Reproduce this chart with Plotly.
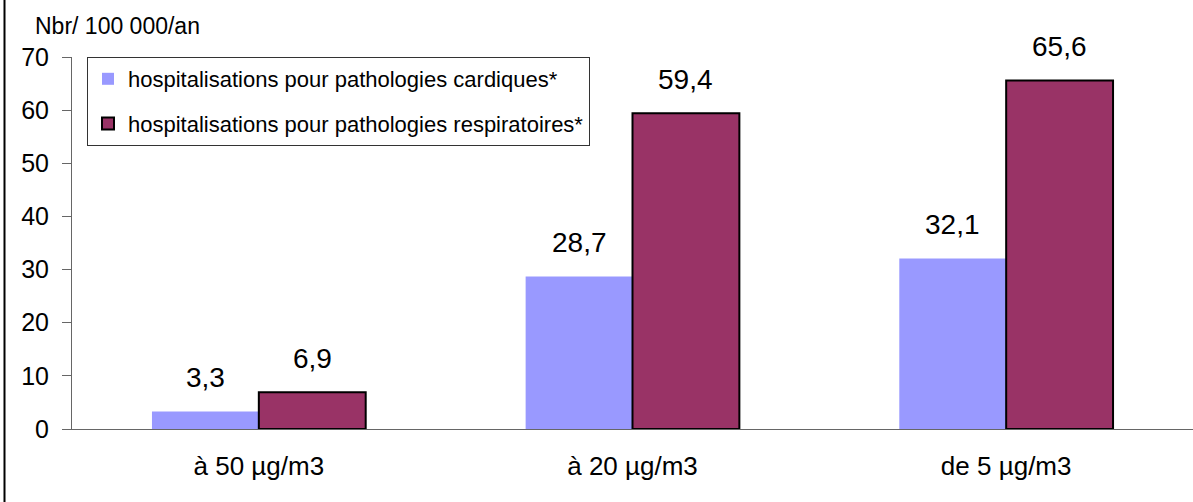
import plotly.graph_objects as go

# Hospitalisations évitables selon le seuil de concentration
categories = ["à 50 µg/m3", "à 20 µg/m3", "de 5 µg/m3"]
cardiaques = [3.3, 28.7, 32.1]
respiratoires = [6.9, 59.4, 65.6]
series_names = [
    "hospitalisations pour pathologies cardiques*",
    "hospitalisations pour pathologies respiratoires*",
]
y_ticks = [0, 10, 20, 30, 40, 50, 60, 70]

W, H = 1193, 502
ML, MR, MT, MB = 72, 0, 57, 73
PW = W - ML - MR
PH = H - MT - MB

FONT = "Liberation Sans, Arial, sans-serif"


def fr(v):
    return f"{v:.1f}".replace(".", ",")


fig = go.Figure()
fig.add_bar(
    x=categories, y=cardiaques, name=series_names[0], legendgroup="a",
    marker=dict(color="#9999FF", line=dict(width=0)),
)
fig.add_bar(
    x=categories, y=respiratoires, name=series_names[1], legendgroup="b",
    marker=dict(color="#993366", line=dict(color="#000000", width=2)),
)

# value labels above the bars
bar_px = PW / len(categories) * 0.286
annotations = []
for vals, shift in ((cardiaques, -bar_px / 2), (respiratoires, bar_px / 2)):
    for c, v in zip(categories, vals):
        annotations.append(dict(
            x=c, y=v, xref="x", yref="y", text=fr(v), showarrow=False,
            xshift=shift, yshift=16, yanchor="bottom",
            font=dict(size=28, color="#000000", family=FONT),
        ))

annotations.append(dict(
    x=(33 - ML) / PW, y=1 + (MT - 26) / PH, xref="paper", yref="paper",
    xanchor="left", yanchor="middle", text="Nbr/ 100 000/an", showarrow=False,
    font=dict(size=23, color="#000000", family=FONT),
))

fig.update_layout(
    width=W, height=H,
    margin=dict(l=ML, r=MR, t=MT, b=MB),
    paper_bgcolor="white", plot_bgcolor="white",
    barmode="group", bargap=0.428, bargroupgap=0,
    font=dict(family=FONT, color="#000000"),
    annotations=annotations,
    showlegend=True,
    legend=dict(
        x=(87 - ML) / PW, y=1, xanchor="left", yanchor="top",
        bgcolor="white", bordercolor="#333333", borderwidth=1,
        font=dict(size=22, family=FONT, color="#000000"),
        tracegroupgap=13,
    ),
    shapes=[dict(
        type="line", xref="paper", yref="paper",
        x0=(4.5 - ML) / PW, x1=(4.5 - ML) / PW,
        y0=-MB / PH, y1=1 + MT / PH,
        line=dict(color="#000000", width=2),
    )],
)

fig.update_xaxes(
    showline=True, linecolor="#666666", linewidth=1,
    ticks="", showgrid=False, tickfont=dict(size=26, family=FONT),
    range=[-0.5, 2.5], ticklabelstandoff=14,
)
fig.update_yaxes(
    range=[0, 70], tickvals=y_ticks, showline=True, linecolor="#666666",
    linewidth=1, ticks="outside", ticklen=9, tickcolor="#666666",
    showgrid=False, zeroline=False, tickfont=dict(size=25, family=FONT),
    ticklabelstandoff=8,
)

fig.write_html("out.html")
